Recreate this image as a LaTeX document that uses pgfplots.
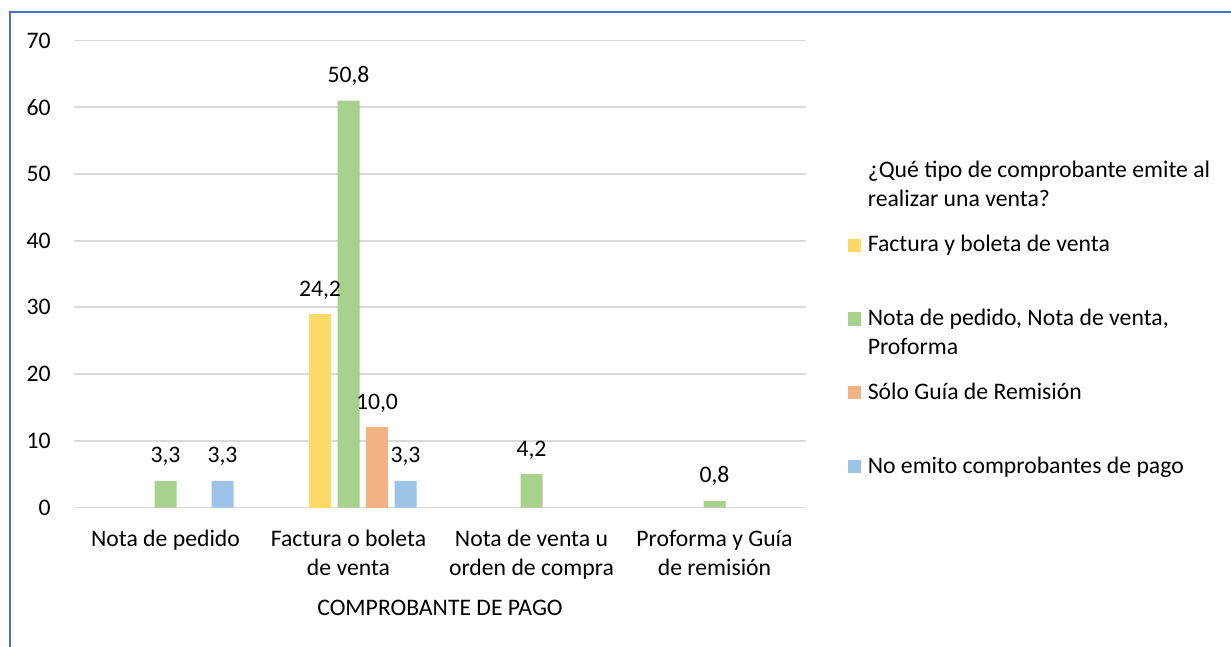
\documentclass[border=0pt]{standalone}
\usepackage{fontspec}
\setmainfont{Carlito}
\usepackage{pgfplots}
\pgfplotsset{compat=1.18}
\usepackage{pgfplotstable}
\definecolor{cYel}{HTML}{FFD966}
\definecolor{cGre}{HTML}{A9D18E}
\definecolor{cOra}{HTML}{F4B183}
\definecolor{cBlu}{HTML}{9DC3E6}
\definecolor{cGrid}{HTML}{D9D9D9}
\definecolor{cFrame}{HTML}{4472C4}
\newcommand\cf{\fontsize{11.85pt}{14.4pt}\selectfont}
\newcommand\legtxt[1]{\setbox0=\hbox{\parbox[t]{190pt}{\raggedright\strut #1}}\ht0=10.08pt\dp0=26.82pt\box0}

\pgfplotstableread{
x y lab
1 29 24,2
}\tYel
\pgfplotstableread{
x y lab
0 4 3,3
1 61 50,8
2 5 4,2
3 1 0,8
}\tGre
\pgfplotstableread{
x y lab
1 12 10,0
}\tOra
\pgfplotstableread{
x y lab
0 4 3,3
1 4 3,3
}\tBlu

\begin{document}
\begin{tikzpicture}[font=\cf]
\path[use as bounding box] (0,0) rectangle (615.5pt,-323.5pt);
\begin{axis}[
 at={(37pt,-253.75pt)}, anchor=south west,
 scale only axis, width=366pt, height=233.5pt,
 xmin=-0.5, xmax=3.5, ymin=0, ymax=70,
 xtick={0,1,2,3},
 xticklabels={{\strut Nota de pedido},{\strut Factura o boleta\\de venta},{\strut Nota de venta u\\orden de compra},{\strut Proforma y Guía\\de remisión}},
 ytick={0,10,...,70},
 ymajorgrids, grid style={draw=cGrid, line width=0.9pt},
 axis line style={draw=none}, major tick length=0pt, tick style={draw=none},
 /pgf/number format/assume math mode=true,
 tick label style={font=\cf, text=black},
 yticklabel style={anchor=east, inner sep=0pt, xshift=-11.5pt},
 xticklabel style={align=center, anchor=north, inner sep=0pt, yshift=-9.17pt},
 xlabel={COMPROBANTE DE PAGO},
 xlabel style={font=\cf, at={(axis description cs:0.5,0)}, anchor=base, inner sep=0pt, yshift=-53.75pt},
 ybar, bar width=11pt,
 nodes near coords, point meta=explicit symbolic,
 every node near coord/.append style={font=\cf, anchor=base, inner sep=0pt, yshift=9pt, text=black},
 legend cell align=left,
 legend style={at={(axis description cs:1.0578,0.7488)}, anchor=north west, draw=none, fill=none, inner sep=0pt, outer sep=0pt, column sep=3.5pt, row sep=0pt, nodes={inner sep=0pt, outer sep=0pt, text depth=}, font=\cf},
 clip=false,
]
\addlegendimage{legend image code/.code={\path[draw=none,fill=none] (0pt,-15pt) rectangle (6.25pt,15pt);}}
\addlegendentry{\legtxt{¿Qué tipo de comprobante emite al\\realizar una venta?}}
\addplot[fill=cYel, draw=none, bar shift=-14.25pt,
  legend image code/.code={\path[draw=none,fill=none] (0pt,-15pt) rectangle (6.25pt,15pt);\fill[cYel] (0pt,8.37pt) rectangle (6.25pt,14.97pt);}]
  table[x=x, y=y, meta=lab] {\tYel};
\addlegendentry{\legtxt{Factura y boleta de venta}}
\addplot[fill=cGre, draw=none, bar shift=0pt,
  legend image code/.code={\path[draw=none,fill=none] (0pt,-15pt) rectangle (6.25pt,15pt);\fill[cGre] (0pt,8.37pt) rectangle (6.25pt,14.97pt);}]
  table[x=x, y=y, meta=lab] {\tGre};
\addlegendentry{\legtxt{Nota de pedido, Nota de venta,\\Proforma}}
\addplot[fill=cOra, draw=none, bar shift=14.25pt,
  legend image code/.code={\path[draw=none,fill=none] (0pt,-15pt) rectangle (6.25pt,15pt);\fill[cOra] (0pt,8.37pt) rectangle (6.25pt,14.97pt);}]
  table[x=x, y=y, meta=lab] {\tOra};
\addlegendentry{\legtxt{Sólo Guía de Remisión}}
\addplot[fill=cBlu, draw=none, bar shift=28.5pt,
  legend image code/.code={\path[draw=none,fill=none] (0pt,-15pt) rectangle (6.25pt,15pt);\fill[cBlu] (0pt,8.37pt) rectangle (6.25pt,14.97pt);}]
  table[x=x, y=y, meta=lab] {\tBlu};
\addlegendentry{\legtxt{No emito comprobantes de pago}}
\end{axis}
\draw[cFrame, line width=1.2pt] (5pt,-323.5pt) -- (5pt,-6pt) -- (615.5pt,-6pt);
\end{tikzpicture}
\end{document}
